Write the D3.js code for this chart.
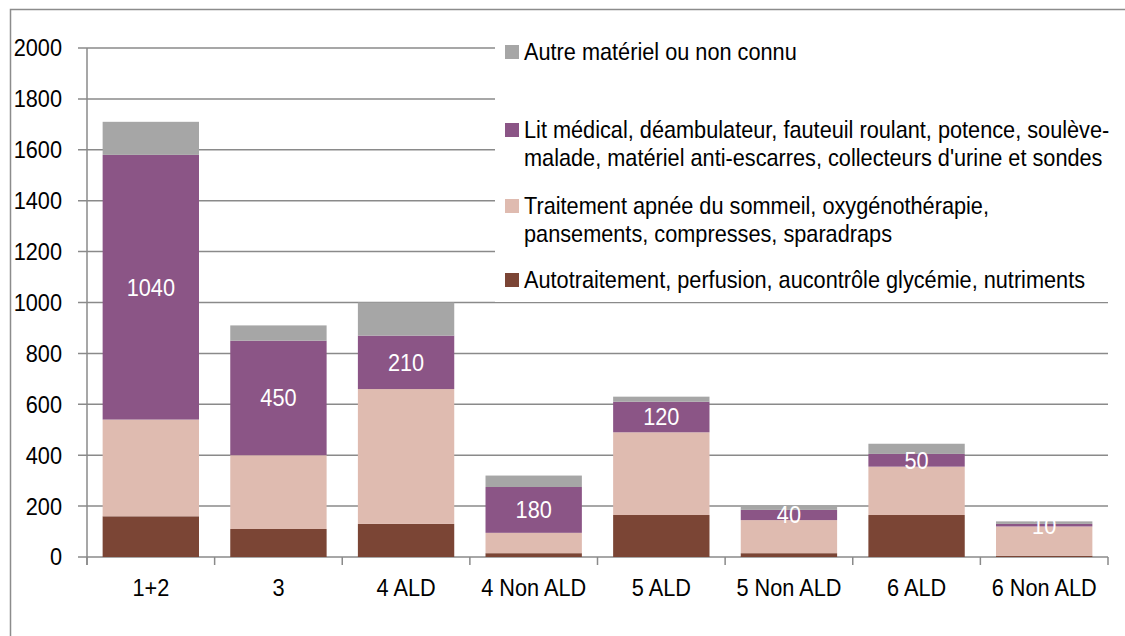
<!DOCTYPE html>
<html><head><meta charset="utf-8">
<script src="https://cdn.jsdelivr.net/npm/d3@7"></script>
<style>
body{margin:0;background:#fff;}
text{font-family:"Liberation Sans",Arial,sans-serif;}
</style></head>
<body><svg id="c" width="1125" height="636"></svg>
<script>
const categories = ["1+2","3","4 ALD","4 Non ALD","5 ALD","5 Non ALD","6 ALD","6 Non ALD"];
const autotraitement = [160,110,130,15,165,15,165,5];
const traitementApnee = [380,290,530,80,325,130,190,115];
const litMedical = [1040,450,210,180,120,40,50,10];
const autreMateriel = [130,60,130,45,20,15,40,10];
const yTicks = [0,200,400,600,800,1000,1200,1400,1600,1800,2000];
const legendLines = [
  ["Autre matériel ou non connu"],
  ["Lit médical, déambulateur, fauteuil roulant, potence, soulève-","malade, matériel anti-escarres, collecteurs d'urine et sondes"],
  ["Traitement apnée du sommeil, oxygénothérapie,","pansements, compresses, sparadraps"],
  ["Autotraitement, perfusion, aucontrôle glycémie, nutriments"]
];
const colors = ["#7b4535","#dfbbb0","#8b5586","#a6a6a6"];
const legendColors = ["#a6a6a6","#8b5586","#dfbbb0","#7b4535"];

const NARROW = 0.905;
// place text at (px,py) with horizontal condensing
function place(sel, fx, fy){
  sel.attr("x",0).attr("y",0)
     .attr("transform",(d,i)=>`translate(${fx(d,i)},${fy(d,i)}) scale(${NARROW},1)`);
}

const svg = d3.select("#c");
const L=87, R=1108, T=48, B=557;
svg.append("rect").attr("x",10.5).attr("y",9.5).attr("width",1130).attr("height",640)
  .attr("fill","none").attr("stroke","#8c8c8c").attr("stroke-width",1.5);

const x = d3.scaleBand().domain(categories).range([L,R]).paddingInner(0.245).paddingOuter(0.1225);
const y = d3.scaleLinear().domain([0,2000]).range([B,T]);

svg.append("g").selectAll("line").data(yTicks).join("line")
  .attr("x1",78).attr("x2",R).attr("y1",d=>y(d)).attr("y2",d=>y(d))
  .attr("stroke","#8a8a8a").attr("stroke-width",1.5);

const data = categories.map((c,i)=>({cat:c, s0:autotraitement[i], s1:traitementApnee[i], s2:litMedical[i], s3:autreMateriel[i]}));
const stack = d3.stack().keys(["s0","s1","s2","s3"])(data);
svg.append("g").selectAll("g").data(stack).join("g").attr("fill",(d,i)=>colors[i])
  .selectAll("rect").data(d=>d).join("rect")
  .attr("x",d=>x(d.data.cat)).attr("width",x.bandwidth())
  .attr("y",d=>y(d[1])).attr("height",d=>y(d[0])-y(d[1]));

svg.append("g").selectAll("text").data(stack[2]).join("text")
  .attr("dy","0.35em").attr("text-anchor","middle").attr("fill","#fff")
  .attr("font-size",24).text((d,i)=>litMedical[i])
  .call(place, d=>x(d.data.cat)+x.bandwidth()/2, d=>(y(d[0])+y(d[1]))/2);

svg.append("line").attr("x1",L).attr("x2",L).attr("y1",T).attr("y2",B+8).attr("stroke","#8a8a8a").attr("stroke-width",1.5);
const xTickPos = categories.map(c=>x(c)-x.step()*x.paddingInner()/2).concat([R]);
svg.append("g").selectAll("line").data(xTickPos).join("line")
  .attr("x1",d=>d).attr("x2",d=>d).attr("y1",B).attr("y2",B+8).attr("stroke","#8a8a8a").attr("stroke-width",1.5);
svg.append("g").selectAll("text").data(yTicks).join("text")
  .attr("dy","0.35em").attr("text-anchor","end")
  .attr("font-size",24).attr("fill","#000").text(d=>d)
  .call(place, ()=>62, d=>y(d));
svg.append("g").selectAll("text").data(categories).join("text")
  .attr("dy","0.35em").attr("text-anchor","middle")
  .attr("font-size",24).attr("fill","#000").text(d=>d)
  .call(place, d=>x(d)+x.bandwidth()/2, ()=>588);

const lg = svg.append("g");
lg.append("rect").attr("x",495).attr("y",30).attr("width",R-495+1).attr("height",272).attr("fill","#fff");
const rowY = [52,130,206,280];
legendLines.forEach((lines,i)=>{
  lg.append("rect").attr("x",505).attr("y",rowY[i]-7).attr("width",14).attr("height",14).attr("fill",legendColors[i]);
  lg.selectAll(null).data(lines).join("text")
    .attr("dy","0.35em").attr("font-size",24).attr("fill","#000").text(t=>t)
    .call(place, ()=>524, (t,j)=>rowY[i]+j*28);
});
</script></body></html>
